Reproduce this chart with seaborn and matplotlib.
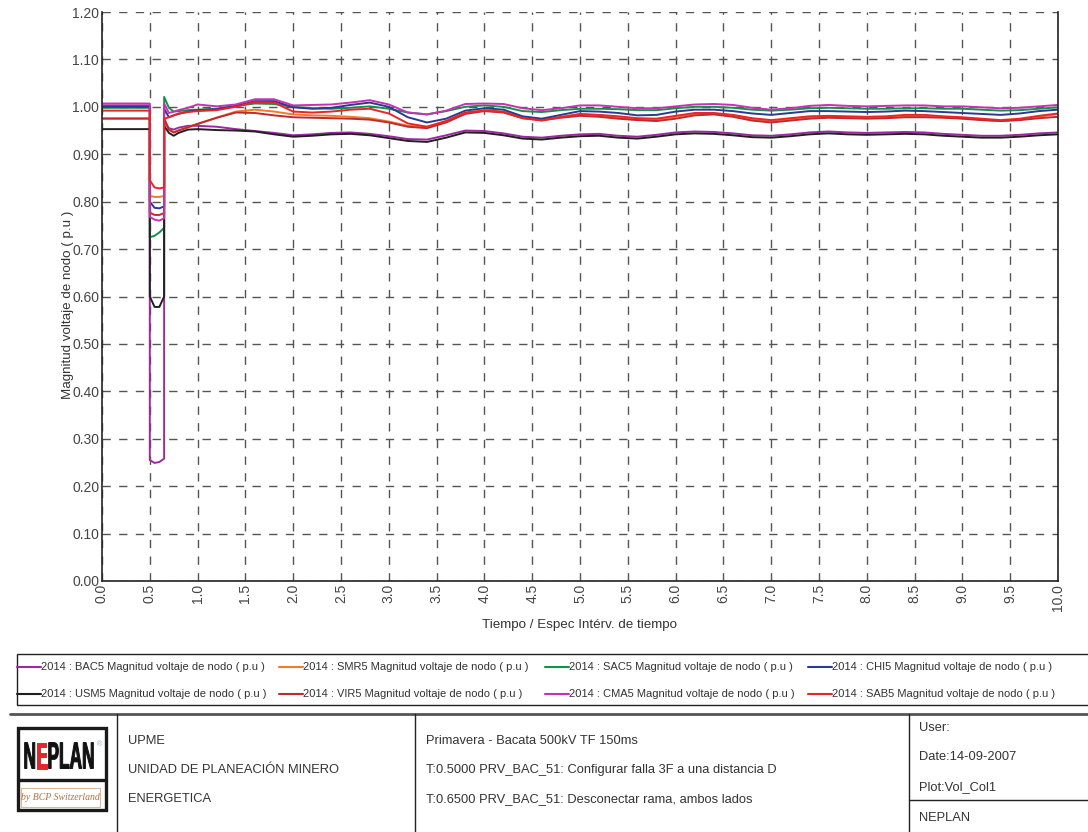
import pandas as pd
import matplotlib
matplotlib.use("Agg")
import matplotlib.pyplot as plt
from matplotlib.lines import Line2D
from matplotlib.patches import Rectangle, PathPatch
from matplotlib.textpath import TextPath, text_to_path
from matplotlib.font_manager import FontProperties
from matplotlib.transforms import Affine2D
import seaborn as sns

# time axis (s): pre-fault, fault 0.50-0.65, post-fault
time_s = [0.0, 0.5, 0.5, 0.55, 0.6, 0.65, 0.65, 0.7, 0.75, 0.8, 0.9,
          1.0, 1.2, 1.4, 1.6, 1.8, 2.0, 2.2, 2.4, 2.6, 2.8,
          3.0, 3.2, 3.4, 3.6, 3.8, 4.0, 4.2, 4.4, 4.6, 4.8,
          5.0, 5.2, 5.4, 5.6, 5.8, 6.0, 6.2, 6.4, 6.6, 6.8,
          7.0, 7.2, 7.4, 7.6, 7.8, 8.0, 8.2, 8.4, 8.6, 8.8,
          9.0, 9.2, 9.4, 9.6, 9.8, 10.0]

bac5 = [1.003, 1.003, 0.255, 0.249, 0.251, 0.258, 0.970, 0.955, 0.952, 0.956, 0.960,
        0.960, 0.958, 0.953, 0.949, 0.945, 0.940, 0.942, 0.945, 0.946, 0.943,
        0.938, 0.932, 0.931, 0.940, 0.950, 0.949, 0.944, 0.937, 0.935, 0.939,
        0.942, 0.943, 0.939, 0.937, 0.941, 0.946, 0.948, 0.947, 0.944, 0.940,
        0.939, 0.942, 0.946, 0.948, 0.946, 0.945, 0.946, 0.947, 0.946, 0.943,
        0.941, 0.939, 0.939, 0.941, 0.944, 0.946]
smr5 = [0.976, 0.976, 0.812, 0.810, 0.810, 0.812, 0.975, 0.952, 0.946, 0.950, 0.957,
        0.964, 0.977, 0.990, 0.994, 0.990, 0.984, 0.982, 0.981, 0.979, 0.976,
        0.969, 0.960, 0.958, 0.970, 0.987, 0.993, 0.990, 0.978, 0.974, 0.979,
        0.984, 0.982, 0.978, 0.974, 0.973, 0.979, 0.985, 0.986, 0.982, 0.974,
        0.970, 0.974, 0.978, 0.979, 0.978, 0.977, 0.978, 0.980, 0.980, 0.978,
        0.976, 0.973, 0.970, 0.973, 0.979, 0.985]
sac5 = [0.998, 0.998, 0.725, 0.728, 0.735, 0.745, 1.021, 0.998, 0.990, 0.991, 0.993,
        0.994, 0.996, 1.002, 1.007, 1.006, 1.000, 0.997, 0.996, 0.998, 1.001,
        0.996, 0.988, 0.984, 0.991, 1.000, 1.003, 1.000, 0.991, 0.989, 0.993,
        0.996, 0.996, 0.995, 0.993, 0.993, 0.997, 1.000, 1.000, 0.998, 0.994,
        0.992, 0.994, 0.997, 0.998, 0.997, 0.996, 0.996, 0.997, 0.997, 0.996,
        0.996, 0.994, 0.992, 0.993, 0.996, 0.999]
chi5 = [1.000, 1.000, 0.800, 0.787, 0.786, 0.790, 0.996, 0.978, 0.982, 0.985, 0.990,
        0.993, 0.995, 1.002, 1.012, 1.012, 0.999, 0.996, 0.998, 1.004, 1.009,
        1.000, 0.978, 0.967, 0.975, 0.992, 0.997, 0.994, 0.980, 0.975, 0.983,
        0.991, 0.990, 0.987, 0.982, 0.983, 0.990, 0.994, 0.994, 0.991, 0.986,
        0.983, 0.987, 0.991, 0.991, 0.990, 0.989, 0.990, 0.992, 0.991, 0.989,
        0.987, 0.985, 0.983, 0.986, 0.991, 0.994]
usm5 = [0.953, 0.953, 0.600, 0.578, 0.578, 0.600, 0.960, 0.945, 0.939, 0.945, 0.952,
        0.953, 0.951, 0.950, 0.948, 0.942, 0.937, 0.939, 0.942, 0.943, 0.940,
        0.934, 0.928, 0.926, 0.935, 0.946, 0.945, 0.940, 0.933, 0.931, 0.935,
        0.938, 0.939, 0.935, 0.933, 0.937, 0.942, 0.944, 0.943, 0.940, 0.936,
        0.935, 0.938, 0.942, 0.944, 0.942, 0.941, 0.942, 0.943, 0.942, 0.939,
        0.937, 0.935, 0.935, 0.937, 0.940, 0.942]
vir5 = [0.975, 0.975, 0.777, 0.772, 0.772, 0.776, 0.975, 0.952, 0.946, 0.950, 0.957,
        0.964, 0.977, 0.988, 0.987, 0.982, 0.978, 0.977, 0.976, 0.975, 0.973,
        0.967, 0.958, 0.955, 0.967, 0.985, 0.991, 0.988, 0.976, 0.972, 0.977,
        0.981, 0.979, 0.975, 0.972, 0.970, 0.975, 0.982, 0.984, 0.979, 0.971,
        0.967, 0.971, 0.975, 0.977, 0.976, 0.975, 0.976, 0.978, 0.978, 0.977,
        0.975, 0.972, 0.970, 0.972, 0.976, 0.979]
cma5 = [1.007, 1.007, 0.768, 0.762, 0.760, 0.765, 1.007, 0.987, 0.990, 0.993, 0.998,
        1.005, 1.001, 1.005, 1.016, 1.016, 1.003, 1.004, 1.005, 1.009, 1.014,
        1.005, 0.988, 0.984, 0.992, 1.006, 1.007, 1.006, 0.997, 0.993, 0.997,
        1.003, 1.003, 1.000, 0.997, 0.997, 1.001, 1.005, 1.006, 1.004, 0.998,
        0.994, 0.997, 1.002, 1.004, 1.002, 1.001, 1.002, 1.003, 1.003, 1.001,
        1.001, 0.999, 0.997, 0.998, 1.001, 1.004]
sab5 = [0.992, 0.992, 0.845, 0.830, 0.828, 0.830, 0.975, 0.978, 0.982, 0.986, 0.989,
        0.991, 0.993, 1.000, 1.010, 1.009, 0.990, 0.988, 0.990, 0.994, 0.996,
        0.986, 0.965, 0.958, 0.970, 0.988, 0.992, 0.989, 0.976, 0.971, 0.978,
        0.985, 0.983, 0.980, 0.976, 0.975, 0.981, 0.987, 0.987, 0.983, 0.976,
        0.972, 0.976, 0.980, 0.981, 0.980, 0.979, 0.980, 0.983, 0.983, 0.980,
        0.978, 0.975, 0.972, 0.975, 0.981, 0.986]

bus_names = ["BAC5", "SMR5", "SAC5", "CHI5", "USM5", "VIR5", "CMA5", "SAB5"]
bus_values = [bac5, smr5, sac5, chi5, usm5, vir5, cma5, sab5]
bus_colors = {"BAC5": "#9B2A9E", "SMR5": "#F07B2A", "SAC5": "#12934A", "CHI5": "#2B3A92",
              "USM5": "#231F20", "VIR5": "#BE2A2E", "CMA5": "#C632B0", "SAB5": "#EE2229"}

df = pd.concat([pd.DataFrame({"t": time_s, "v": vals, "bus": name})
                for name, vals in zip(bus_names, bus_values)], ignore_index=True)

sns.set_style("white")
plt.rcParams["font.family"] = ["Liberation Sans", "DejaVu Sans"]

W, H = 1088, 832
def fx(px):
    return px / W
def fy(py):
    return 1 - py / H

fig = plt.figure(figsize=(W / 100, H / 100), dpi=100)
ax = fig.add_axes([fx(102), fy(581), (1058 - 102) / W, (581 - 12) / H])

sns.lineplot(data=df, x="t", y="v", hue="bus", hue_order=bus_names, palette=bus_colors,
             estimator=None, sort=False, legend=False, linewidth=1.4, ax=ax)

ax.set_xlim(0, 10)
ax.set_ylim(0, 1.2)
xt = [i * 0.5 for i in range(21)]
yt = [i * 0.1 for i in range(13)]
ax.set_xticks(xt)
ax.set_xticklabels([f"{v:.1f}" for v in xt], rotation=90)
ax.set_yticks(yt)
ax.set_yticklabels([f"{v:.2f}" for v in yt])
ax.tick_params(length=0, pad=2, labelsize=10, labelcolor="#444444")
ax.grid(True, linestyle=(0, (6, 6)), color="#555555", linewidth=1)
ax.set_xlabel("")
ax.set_ylabel("")
for side in ["left", "bottom", "right"]:
    ax.spines[side].set_color("#222222")
    ax.spines[side].set_linewidth(1.2)
ax.spines["top"].set_visible(False)

fig.text(fx(579), fy(625), "Tiempo / Espec Intérv. de tiempo", ha="center", va="center",
         fontsize=9.6, color="#333333")
fig.text(fx(68), fy(305), "Magnitud voltaje de nodo ( p.u )", ha="center", va="center",
         rotation=90, fontsize=9.6, color="#333333")

# legend box
fig.add_artist(Rectangle((fx(17), fy(705)), (1100 - 17) / W, (705 - 654) / H,
                         transform=fig.transFigure, fill=False, edgecolor="#222222", lw=1))
col_x = [17, 279, 545, 808]
row_y = [667, 694]
legend_order = [["BAC5", "SMR5", "SAC5", "CHI5"], ["USM5", "VIR5", "CMA5", "SAB5"]]
for r, names in enumerate(legend_order):
    for c, name in enumerate(names):
        x0 = col_x[c]
        fig.add_artist(Line2D([fx(x0), fx(x0 + 24)], [fy(row_y[r]), fy(row_y[r])],
                              transform=fig.transFigure, color=bus_colors[name], lw=1.5))
        fig.text(fx(x0 + 24), fy(row_y[r]), f"2014 : {name} Magnitud voltaje de nodo ( p.u )",
                 ha="left", va="center", fontsize=8.0, color="#333333")

# title block
def hline(x0, x1, y, lw=1, color="#222222"):
    fig.add_artist(Line2D([fx(x0), fx(x1)], [fy(y), fy(y)], transform=fig.transFigure,
                          color=color, lw=lw))
def vline(x, y0, y1, lw=1, color="#222222"):
    fig.add_artist(Line2D([fx(x), fx(x)], [fy(y0), fy(y1)], transform=fig.transFigure,
                          color=color, lw=lw))

hline(10, 1100, 714, lw=2, color="#555555")
vline(117, 714, 840)
vline(415, 714, 840)
vline(909, 714, 840)
hline(909, 1100, 800)

block_texts = [
    (128, 741, "UPME"), (128, 770, "UNIDAD DE PLANEACIÓN MINERO"), (128, 799, "ENERGETICA"),
    (426, 741, "Primavera - Bacata 500kV TF 150ms"),
    (426, 770, "T:0.5000 PRV_BAC_51: Configurar falla 3F a una distancia D"),
    (426, 799, "T:0.6500 PRV_BAC_51: Desconectar rama, ambos lados"),
    (919, 728, "User:"), (919, 757, "Date:14-09-2007"), (919, 787, "Plot:Vol_Col1"),
    (919, 818, "NEPLAN"),
]
for x, y, s in block_texts:
    fig.text(fx(x), fy(y), s, ha="left", va="center", fontsize=9.3, color="#333333")

# NEPLAN logo
fig.add_artist(Rectangle((fx(18), fy(810)), (106 - 18) / W, (810 - 728) / H,
                         transform=fig.transFigure, facecolor="white", edgecolor="#1a1a1a",
                         lw=2.4, zorder=2))
hline(18, 106, 780, lw=2.4, color="#1a1a1a")
fig.add_artist(Rectangle((fx(21), fy(807)), (100 - 21) / W, (807 - 788) / H,
                         transform=fig.transFigure, fill=False, edgecolor="#D8B89A",
                         lw=0.8, zorder=3))

logo_fp = FontProperties(family="Liberation Sans", weight="bold", size=100)
pieces = [("N", "#111111"), ("E", "#E3262B"), ("PLAN", "#111111")]
full_w = text_to_path.get_text_width_height_descent("NEPLAN", logo_fp, ismath=False)[0]
sx = 71 / full_w
sy = 27 / 71.6
offset = 0.0
for s, col in pieces:
    tp = TextPath((offset, 0), s, prop=logo_fp)
    tr = Affine2D().scale(sx / W, sy / H).translate(fx(23.5), fy(768.5)) + fig.transFigure
    fig.add_artist(PathPatch(tp, transform=tr, facecolor=col, edgecolor=col, lw=0.7,
                             zorder=4))
    offset += text_to_path.get_text_width_height_descent(s, logo_fp, ismath=False)[0]

fig.text(fx(97), fy(745), "®", ha="left", va="center", fontsize=5, color="#8AAFC8", zorder=4)
fig.text(fx(60), fy(798), "by BCP Switzerland", ha="center", va="center", fontsize=7,
         style="italic", family="Liberation Serif", color="#B8703A", zorder=4)

fig.savefig("out.png", dpi=100)
